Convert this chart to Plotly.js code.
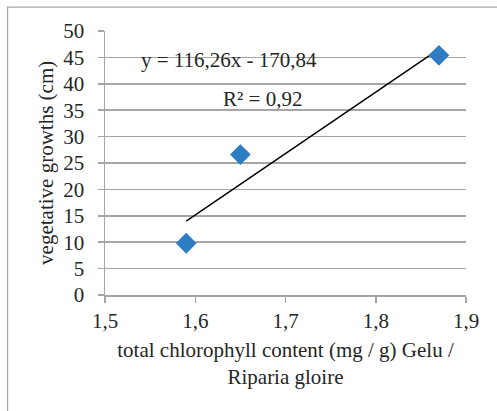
<!DOCTYPE html>
<html>
<head>
<meta charset="utf-8">
<script src="https://cdn.plot.ly/plotly-3.0.1.min.js"></script>
<style>html,body{margin:0;padding:0;background:#fff;}#chart{width:497px;height:411px;}</style>
</head>
<body>
<div id="chart"></div>
<script>
// Data
const chlorophyll = [1.59, 1.65, 1.87];
const growth = [9.8, 26.6, 45.4];
// Linear trendline endpoints (y = 116,26x - 170,84) over the data range
const trendX = [1.59, 1.87];
const trendY = [14.01, 46.57];
const xTicks = [1.5, 1.6, 1.7, 1.8, 1.9];
const xTickLabels = ['1,5', '1,6', '1,7', '1,8', '1,9'];
const yTicks = [0, 5, 10, 15, 20, 25, 30, 35, 40, 45, 50];
const equationText = 'y = 116,26x - 170,84';
const r2Text = 'R² = 0,92';
const yTitle = 'vegetative growths (cm)';
const xTitle = 'total chlorophyll content (mg / g) Gelu /<br>Riparia gloire';

const font = '"Liberation Serif", "Times New Roman", serif';
const fs = 21;
const col = '#262626';
const L = 104.5, R = 31.3, T = 31, B = 115.7;
const pw = 497 - L - R, ph = 411 - T - B;

const traces = [
  {x: trendX, y: trendY, mode: 'lines', type: 'scatter',
   line: {color: '#000000', width: 1.5}, hoverinfo: 'skip', showlegend: false},
  {x: chlorophyll, y: growth, mode: 'markers', type: 'scatter',
   marker: {symbol: 'diamond', size: 16, color: '#2E7DC2', line: {width: 0}}, showlegend: false}
];

const layout = {
  width: 497, height: 411,
  margin: {l: L, r: R, t: T, b: B},
  paper_bgcolor: '#ffffff', plot_bgcolor: '#ffffff',
  font: {family: font, size: fs, color: col},
  showlegend: false,
  xaxis: {
    range: [1.5, 1.9], tickvals: xTicks, ticktext: xTickLabels,
    showgrid: false, zeroline: false, showline: true, linecolor: '#A6A6A6', linewidth: 1.5,
    ticks: 'outside', ticklen: 6, tickcolor: '#A6A6A6', tickwidth: 1.5,
    tickfont: {family: font, size: fs, color: col},
    title: {text: xTitle, font: {family: font, size: fs, color: col}, standoff: 10}
  },
  yaxis: {
    range: [0, 50], tickvals: yTicks,
    showgrid: true, gridcolor: '#A6A6A6', gridwidth: 1.5, zeroline: false,
    showline: true, linecolor: '#A6A6A6', linewidth: 1.5,
    ticks: 'outside', ticklen: 6, tickcolor: '#A6A6A6', tickwidth: 1.5,
    ticklabelstandoff: 9,
    tickfont: {family: font, size: fs, color: col}
  },
  annotations: [
    {xref: 'paper', yref: 'paper', x: (229 - L) / pw, y: (411 - B - 60) / ph,
     text: equationText, showarrow: false, xanchor: 'center', yanchor: 'middle',
     font: {family: font, size: fs, color: col}},
    {xref: 'paper', yref: 'paper', x: (262 - L) / pw, y: (411 - B - 99) / ph,
     text: r2Text, showarrow: false, xanchor: 'center', yanchor: 'middle',
     font: {family: font, size: fs, color: col}},
    {xref: 'paper', yref: 'paper', x: (46 - L) / pw, y: (411 - B - 163.5) / ph,
     text: yTitle, textangle: -90, showarrow: false, xanchor: 'center', yanchor: 'middle',
     font: {family: font, size: fs, color: col}}
  ],
  shapes: [
    {type: 'rect', xref: 'paper', yref: 'paper',
     x0: (7 - L) / pw, x1: (520 - L) / pw, y0: (411 - B - 430) / ph, y1: (411 - B - 7) / ph,
     line: {color: '#A6A6A6', width: 1.2}, fillcolor: 'rgba(0,0,0,0)', layer: 'below'}
  ]
};

Plotly.newPlot('chart', traces, layout, {displayModeBar: false, staticPlot: true});
</script>
</body>
</html>
